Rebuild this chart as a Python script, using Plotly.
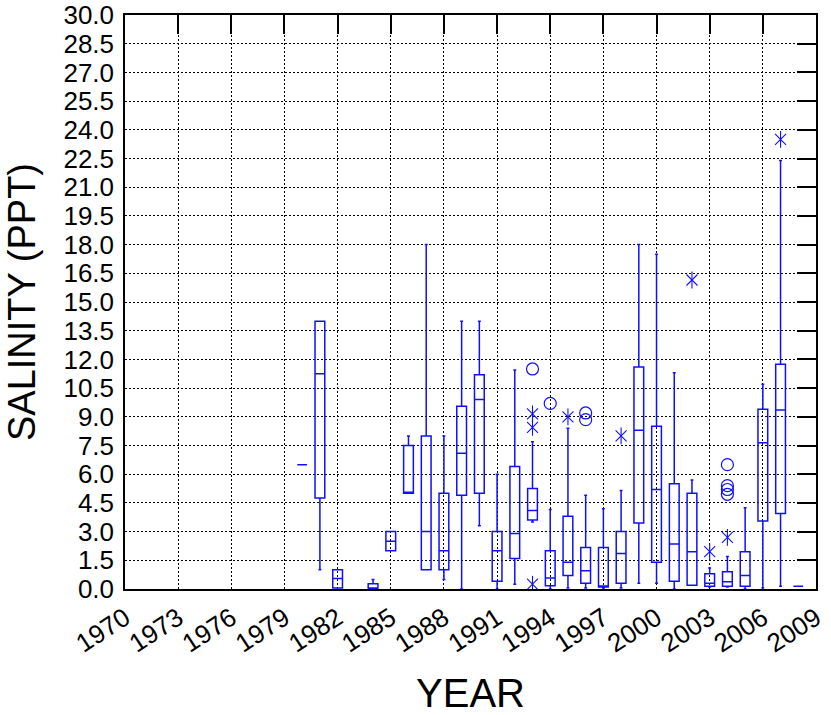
import plotly.graph_objects as go

# Annual salinity summaries (PPT): whisker ends, quartiles and median per year
years = [1980, 1981, 1982, 1984, 1985, 1986, 1987, 1988, 1989, 1990,
         1991, 1992, 1993, 1994, 1995, 1996, 1997, 1998, 1999, 2000,
         2001, 2002, 2003, 2004, 2005, 2006, 2007, 2008]
lower = [6.5, 1.0, 0.05, 0.0, 2.0, 5.0, 1.0, 0.5, 0.0, 3.3,
         0.0, 0.25, 3.5, 0.0, 0.05, 0.05, 0.05, 0.05, 0.3, 0.3,
         0.0, 0.2, 0.1, 0.1, 0.0, 0.05, 0.15, 0.15]
q1 = [6.5, 4.75, 0.05, 0.0, 2.0, 5.0, 1.0, 1.0, 4.9, 5.0,
      0.4, 1.6, 3.6, 0.17, 0.7, 0.3, 0.1, 0.3, 3.45, 1.4,
      0.4, 0.2, 0.14, 0.14, 0.14, 3.55, 3.95, 0.15]
median = [6.5, 11.25, 0.55, 0.05, 2.5, 5.0, 3.0, 2.0, 7.1, 9.9,
          2.0, 2.9, 4.1, 0.57, 1.4, 0.95, 0.15, 1.85, 8.3, 5.2,
          2.35, 1.95, 0.3, 0.38, 0.7, 7.65, 9.35, 0.15]
q3 = [6.5, 14.0, 1.0, 0.28, 3.0, 7.5, 8.0, 5.0, 9.55, 11.2,
      3.0, 6.4, 5.25, 2.0, 3.8, 2.17, 2.17, 3.0, 11.6, 8.5,
      5.5, 5.0, 0.8, 0.9, 1.95, 9.4, 11.75, 0.15]
upper = [6.5, 14.0, 1.0, 0.5, 3.0, 8.0, 18.0, 8.0, 14.0, 14.0,
         6.0, 11.45, 7.7, 4.15, 8.4, 4.9, 4.2, 5.15, 18.0, 17.5,
         11.3, 5.7, 1.1, 1.7, 4.25, 10.7, 22.4, 0.15]

# Outside values (circles) and far-out values (asterisks)
circle_years = [1993, 1994, 1996, 1996, 2004, 2004, 2004, 2004]
circle_vals = [11.5, 9.7, 9.2, 8.85, 6.5, 5.4, 5.2, 4.95]
star_years = [1993, 1993, 1993, 1995, 1998, 2002, 2003, 2004, 2007]
star_vals = [9.15, 8.45, 0.25, 9.0, 8.0, 16.15, 1.95, 2.7, 23.5]

x_ticks = list(range(1970, 2010, 3))
y_ticks = [i * 1.5 for i in range(21)]

BLUE = "#1010ff"
FONT = "Liberation Sans, Arial, sans-serif"

fig = go.Figure()

fig.add_trace(go.Box(
    x=years, q1=q1, median=median, q3=q3,
    lowerfence=lower, upperfence=upper,
    width=0.55, whiskerwidth=0.3,
    line=dict(color=BLUE, width=1.5),
    fillcolor="rgba(0,0,0,0)",
    boxpoints=False, showlegend=False, hoverinfo="skip",
))

fig.add_trace(go.Scatter(
    x=circle_years, y=circle_vals, mode="markers",
    marker=dict(symbol="circle-open", size=12, color=BLUE,
                line=dict(color=BLUE, width=1.2)),
    showlegend=False, hoverinfo="skip",
))

# six-spoke asterisk: an X plus a vertical stroke
for sym, sz in (("x-thin-open", 11), ("line-ns-open", 12)):
    fig.add_trace(go.Scatter(
        x=star_years, y=star_vals, mode="markers",
        marker=dict(symbol=sym, size=sz, color=BLUE,
                    line=dict(color=BLUE, width=1.1)),
        showlegend=False, hoverinfo="skip",
    ))

# empty trace so the top/right tick axes are drawn
fig.add_trace(go.Scatter(x=[], y=[], xaxis="x2", yaxis="y2",
                         showlegend=False, hoverinfo="skip"))

fig.update_layout(
    width=831, height=715,
    margin=dict(l=125, r=15, t=15, b=126),
    paper_bgcolor="white", plot_bgcolor="white",
    font=dict(family=FONT, color="black"),
    xaxis=dict(
        range=[1970, 2009], tickvals=x_ticks,
        ticktext=[str(v) for v in x_ticks],
        tickangle=-33, tickfont=dict(size=26), ticklabelstandoff=2,
        showgrid=True, gridcolor="black", gridwidth=1, griddash="2px,2px",
        showline=True, linecolor="black", linewidth=1.5, mirror=True,
        ticks="", zeroline=False, automargin=False,
        title=dict(text="YEAR", font=dict(size=40), standoff=22),
    ),
    yaxis=dict(
        range=[0, 30], tickvals=y_ticks,
        ticktext=[f"{v:.1f}" for v in y_ticks],
        tickfont=dict(size=26), ticklabelstandoff=4,
        showgrid=True, gridcolor="black", gridwidth=1, griddash="2px,2px",
        showline=True, linecolor="black", linewidth=1.5, mirror=True,
        ticks="", zeroline=False, automargin=False,
        title=dict(text="SALINITY (PPT)", font=dict(size=38), standoff=16),
    ),
    xaxis2=dict(
        overlaying="x", side="top", anchor="y2", range=[1970, 2009],
        tickvals=x_ticks, ticks="inside", ticklen=19, tickwidth=1.5,
        tickcolor="black", showticklabels=False, showgrid=False,
        zeroline=False, showline=False, automargin=False,
    ),
    yaxis2=dict(
        overlaying="y", side="right", anchor="x2", range=[0, 30],
        tickvals=y_ticks, ticks="inside", ticklen=19, tickwidth=1.5,
        tickcolor="black", showticklabels=False, showgrid=False,
        zeroline=False, showline=False, automargin=False,
    ),
)

fig.write_html("out.html")
